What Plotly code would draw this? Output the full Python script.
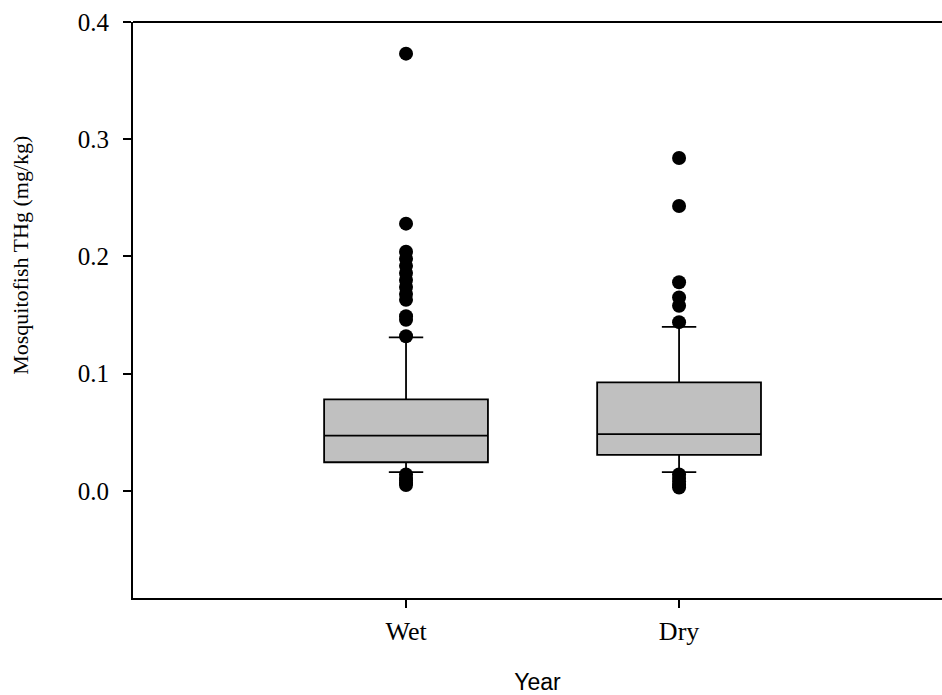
import plotly.graph_objects as go

categories = ["Wet", "Dry"]
positions = [1, 2]
q1 = [0.0245, 0.0307]
median = [0.0472, 0.0484]
q3 = [0.0782, 0.0927]
lower_whisker = [0.016, 0.016]
upper_whisker = [0.131, 0.140]

wet_outliers = [0.373, 0.228, 0.204, 0.198, 0.192, 0.186, 0.180, 0.174, 0.168, 0.163,
                 0.149, 0.146, 0.132, 0.014, 0.011, 0.009, 0.007, 0.005]
dry_outliers = [0.284, 0.243, 0.178, 0.165, 0.158, 0.144,
                0.014, 0.011, 0.008, 0.005, 0.003]
outliers = [wet_outliers, dry_outliers]

y_ticks = [0.0, 0.1, 0.2, 0.3, 0.4]

fig = go.Figure()
for i in range(2):
    fig.add_trace(go.Box(
        x=[positions[i]], q1=[q1[i]], median=[median[i]], q3=[q3[i]],
        lowerfence=[lower_whisker[i]], upperfence=[upper_whisker[i]],
        width=0.6, whiskerwidth=0.21, boxpoints=False,
        fillcolor="#c0c0c0", line=dict(color="black", width=1.8),
        showlegend=False, hoverinfo="skip",
    ))
    fig.add_trace(go.Scatter(
        x=[positions[i]] * len(outliers[i]), y=outliers[i], mode="markers",
        marker=dict(color="black", size=14, line=dict(width=0)),
        showlegend=False, hoverinfo="skip",
    ))

fig.add_shape(type="line", xref="paper", yref="paper", x0=0, x1=1, y0=1, y1=1,
              line=dict(color="black", width=2))

serif = "Liberation Serif, Times New Roman, serif"
fig.add_annotation(
    text="Mosquitofish THg (mg/kg)", textangle=-90,
    xref="paper", yref="paper", x=-0.139, y=0.595,
    xanchor="center", yanchor="middle", showarrow=False,
    font=dict(family=serif, size=22, color="black"),
)

fig.update_layout(
    width=942, height=695,
    margin=dict(l=133, r=0, t=22, b=97),
    plot_bgcolor="white", paper_bgcolor="white",
    font=dict(family=serif, size=20, color="black"),
    xaxis=dict(
        range=[0, 2.963], tickvals=positions, ticktext=categories,
        showline=True, linecolor="black", linewidth=2,
        ticks="outside", ticklen=8, tickwidth=1.5, tickcolor="black",
        showgrid=False, zeroline=False, ticklabelstandoff=1,
        tickfont=dict(family=serif, size=26),
        title=dict(text="Year", font=dict(family="Liberation Sans, Arial, sans-serif", size=23),
                   standoff=29),
    ),
    yaxis=dict(
        range=[-0.0913, 0.4], tickvals=y_ticks, tickformat=".1f",
        showline=True, linecolor="black", linewidth=2,
        ticks="outside", ticklen=8, tickwidth=1.5, tickcolor="black",
        showgrid=False, zeroline=False, ticklabelstandoff=9,
        tickfont=dict(family=serif, size=25),
    ),
)

fig.write_html("out.html")
